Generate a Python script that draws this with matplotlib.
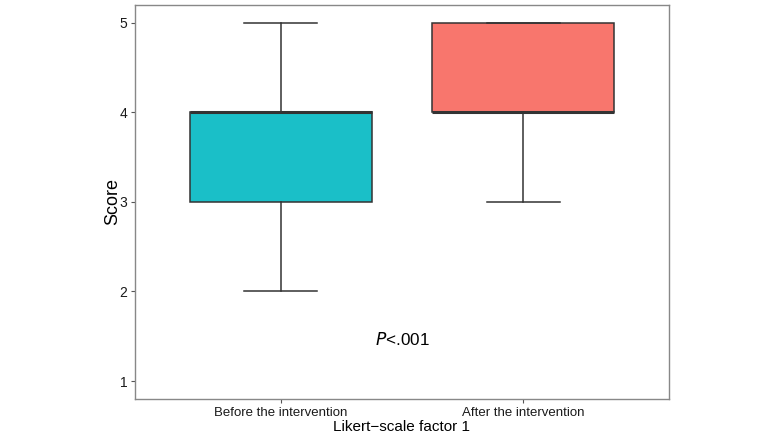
import matplotlib.pyplot as plt

plt.rcParams['font.family'] = ['Liberation Sans', 'DejaVu Sans']

groups = ['Before the intervention', 'After the intervention']
whislo = [2, 3]
q1 = [3, 4]
med = [4, 4]
q3 = [4, 5]
whishi = [5, 5]
colors = ['#1ABFC8', '#F8766D']

stats = []
for i in range(len(groups)):
    stats.append({'label': groups[i], 'whislo': whislo[i], 'q1': q1[i],
                  'med': med[i], 'q3': q3[i], 'whishi': whishi[i], 'fliers': []})

fig = plt.figure(figsize=(7.76, 4.37), dpi=100)
ax = fig.add_axes([0.174, 0.087, 0.688, 0.902])

bp = ax.bxp(stats, positions=[1, 2], widths=0.75, patch_artist=True,
            showfliers=False, capwidths=0.3,
            boxprops=dict(edgecolor='#333333', linewidth=1.1),
            whiskerprops=dict(color='#333333', linewidth=1.1),
            capprops=dict(color='#333333', linewidth=1.1),
            medianprops=dict(color='#333333', linewidth=2.2))
for patch, c in zip(bp['boxes'], colors):
    patch.set_facecolor(c)

ax.set_xlim(0.4, 2.6)
ax.set_ylim(0.8, 5.2)
ax.set_yticks([1, 2, 3, 4, 5])
ax.set_xticks([1, 2])
ax.set_xticklabels(groups)
ax.tick_params(labelsize=9.5, length=3, width=0.8, pad=2.5,
               colors='#555555', labelcolor='#1a1a1a')
ax.tick_params(axis='y', labelsize=10)
for s in ax.spines.values():
    s.set_color('#888888')
    s.set_linewidth(1)

ax.set_xlabel('Likert\u2212scale factor 1', fontsize=11, labelpad=1)
ax.set_ylabel('Score', fontsize=13, labelpad=-1)

ax.text(1.5, 1.46, r'$\it{P}$<.001', fontsize=12.3, ha='center', va='center')

fig.savefig('out.png', dpi=100)
